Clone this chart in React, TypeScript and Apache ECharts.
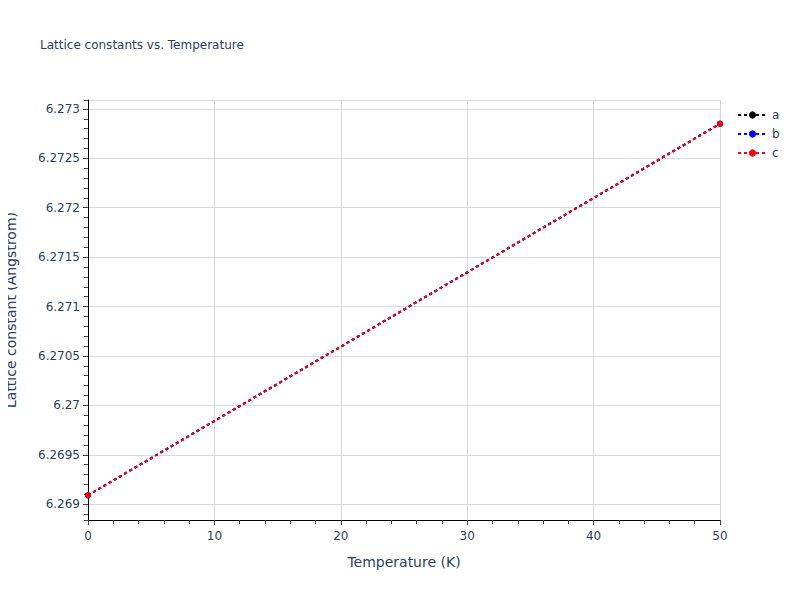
import { useRef, useEffect } from 'react'
import * as echarts from 'echarts'

// temperatures (K) and lattice constants (Angstrom)
const temperatures = [0, 50]
const latticeA = [6.26909, 6.27285]
const latticeB = [6.26909, 6.27285]
const latticeC = [6.26909, 6.27285]

const seriesNames = ['a', 'b', 'c']
const seriesColors = ['#000000', '#0000ff', '#ff0000']

const Y_MIN = 6.26884
const Y_MAX = 6.27309

const FONT = '"DejaVu Sans", verdana, arial, sans-serif'
const TEXT_COLOR = '#2a3f5f'

export default function App() {
  const chartRef = useRef<HTMLDivElement>(null)

  useEffect(() => {
    if (!chartRef.current) return
    const chart = echarts.init(chartRef.current, undefined, { renderer: 'svg' })

    const values = [latticeA, latticeB, latticeC]

    const option: echarts.EChartsOption = {
      animation: false,
      backgroundColor: '#fff',
      textStyle: { fontFamily: FONT },
      title: {
        text: 'Lattice constants vs. Temperature',
        left: 35,
        top: 34,
        textStyle: { fontSize: 12, fontWeight: 'normal', color: TEXT_COLOR, fontFamily: FONT },
      },
      legend: {
        orient: 'vertical',
        left: 732,
        top: 104,
        itemWidth: 29,
        itemHeight: 9,
        itemGap: 7,
        data: seriesNames,
        textStyle: { fontSize: 12, color: TEXT_COLOR, fontFamily: FONT },
      },
      grid: { left: 88, right: 80, top: 100, bottom: 80, outerBoundsMode: 'none' } as any,
      xAxis: {
        type: 'value',
        min: 0,
        max: 50,
        interval: 10,
        name: 'Temperature (K)',
        nameLocation: 'middle',
        nameGap: 35,
        nameTextStyle: { fontSize: 14, color: TEXT_COLOR, fontFamily: FONT },
        axisLine: { show: true, lineStyle: { color: '#000', width: 1 } },
        axisTick: { show: true, length: 5, lineStyle: { color: '#444' } },
        minorTick: { show: true, splitNumber: 5, length: 4, lineStyle: { color: '#444' } },
        axisLabel: { fontSize: 12, color: TEXT_COLOR, margin: 10, fontFamily: FONT },
        splitLine: { show: true, lineStyle: { color: '#d8d8d8' } },
      },
      yAxis: [
        {
          type: 'value',
          position: 'left',
          min: Y_MIN,
          max: Y_MAX,
          splitNumber: 8,
          name: 'Lattice constant (Angstrom)',
          nameLocation: 'middle',
          nameGap: 70,
          nameTextStyle: { fontSize: 14, color: TEXT_COLOR, fontFamily: FONT },
          axisLine: { show: true, lineStyle: { color: '#000', width: 1 } },
          axisTick: { show: true, length: 5, lineStyle: { color: '#444' } },
          axisLabel: {
            fontSize: 12,
            color: TEXT_COLOR,
            margin: 8,
            fontFamily: FONT,
            showMinLabel: false,
            showMaxLabel: false,
            formatter: (v: number) => String(parseFloat(v.toFixed(4))),
          },
          splitLine: { show: true, lineStyle: { color: '#d8d8d8' } },
        },
        {
          // minor ticks only
          type: 'value',
          position: 'left',
          min: Y_MIN,
          max: Y_MAX,
          splitNumber: 40,
          axisLine: { show: false },
          axisTick: { show: true, length: 4, lineStyle: { color: '#444' } },
          axisLabel: { show: false },
          splitLine: { show: false },
        },
      ],
      series: seriesNames.map((name, i) => ({
        name,
        type: 'line',
        yAxisIndex: 0,
        data: temperatures.map((t, j) => [t, values[i][j]]),
        symbol: 'circle',
        symbolSize: 6,
        showSymbol: true,
        lineStyle: { color: seriesColors[i], width: 2, type: [3, 3] },
        itemStyle: { color: seriesColors[i] },
      })) as echarts.SeriesOption[],
    }

    chart.setOption(option)
    return () => chart.dispose()
  }, [])

  return <div ref={chartRef} style={{ width: 800, height: 600, margin: -8 }} />
}
